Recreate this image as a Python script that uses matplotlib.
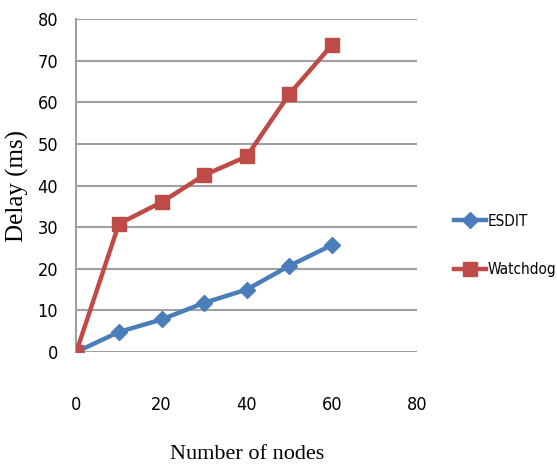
import matplotlib.pyplot as plt
from matplotlib import font_manager

nodes = [0, 10, 20, 30, 40, 50, 60]
esdit = [0, 4.8, 7.8, 11.8, 15, 20.7, 25.7]
watchdog = [0, 30.8, 36, 42.5, 47, 62, 73.8]

# narrow sans for ticks and legend
narrow = font_manager.FontProperties(family="DejaVu Sans", stretch="condensed", size=13)
serif = ["Liberation Serif", "DejaVu Serif"]

fig = plt.figure(figsize=(5.57, 4.68), dpi=100)
ax = fig.add_axes([0.137, 0.248, 0.612, 0.711])

ax.plot(nodes, esdit, color="#4a7ebb", lw=3.2, marker="D", ms=8, label="ESDIT", zorder=3)
ax.plot(nodes, watchdog, color="#be4b48", lw=3.2, marker="s", ms=10, label="Watchdog", zorder=3)

ax.set_xlim(0, 80)
ax.set_ylim(0, 80)
ax.set_xticks(range(0, 81, 20))
ax.set_yticks(range(0, 81, 10))
ax.grid(axis="y", color="#a0a0a0", lw=1.5)
ax.set_axisbelow(True)
for side in ("top", "right", "bottom"):
    ax.spines[side].set_visible(False)
ax.spines["left"].set_color("#a0a0a0")
ax.spines["left"].set_linewidth(1.5)
ax.tick_params(length=0)
ax.tick_params(axis="x", pad=32)
ax.tick_params(axis="y", pad=13)
for lbl in ax.get_xticklabels() + ax.get_yticklabels():
    lbl.set_fontproperties(narrow)

ax.set_xlabel("Number of nodes", family=serif, size=16, labelpad=22)
ax.set_ylabel("Delay (ms)", family=serif, size=18, labelpad=6)

ax.legend(loc="center left", bbox_to_anchor=(1.09, 0.32), frameon=False,
          handlelength=2.1, labelspacing=2.2, borderaxespad=0, handletextpad=0.1,
          prop=font_manager.FontProperties(family="DejaVu Sans", stretch="condensed", size=11))

fig.savefig("out.png", dpi=100, facecolor="white")
